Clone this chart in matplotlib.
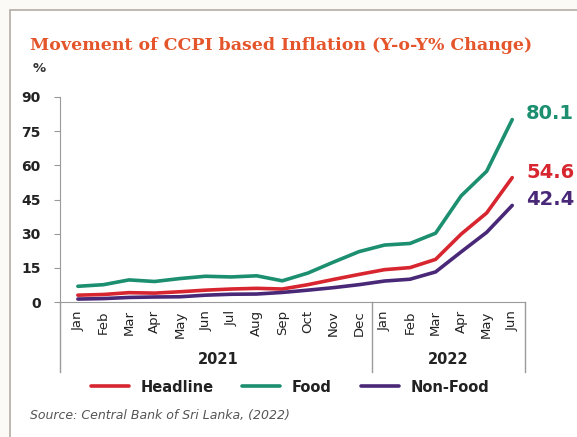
import matplotlib.pyplot as plt
from matplotlib.patches import Rectangle
import matplotlib.transforms as mtransforms

# Data (Y-o-Y % change)
months = ["Jan", "Feb", "Mar", "Apr", "May", "Jun", "Jul", "Aug", "Sep", "Oct", "Nov", "Dec",
          "Jan", "Feb", "Mar", "Apr", "May", "Jun"]
years = ["2021", "2022"]
headline = [3.0, 3.3, 4.1, 3.9, 4.5, 5.2, 5.7, 6.0, 5.7, 7.6, 9.9, 12.1,
            14.2, 15.1, 18.7, 29.8, 39.1, 54.6]
food = [6.9, 7.6, 9.7, 9.0, 10.3, 11.3, 11.0, 11.5, 9.3, 12.7, 17.5, 22.1,
        25.0, 25.7, 30.2, 46.6, 57.4, 80.1]
non_food = [1.3, 1.5, 2.0, 2.2, 2.3, 3.0, 3.4, 3.5, 4.2, 5.2, 6.3, 7.6,
            9.2, 10.0, 13.2, 22.0, 30.6, 42.4]

c_head = "#d7262f"
c_food = "#1b8f6f"
c_nonf = "#4a2878"
c_grey = "#9a9a9a"

fig = plt.figure(figsize=(5.77, 4.37), dpi=100)
fig.patch.set_facecolor("#fbfaf7")

# outer frame of the graphic
fig.patches.append(Rectangle((10 / 577, -0.05), 1.0, 1 - 10 / 437 + 0.05,
                             transform=fig.transFigure, facecolor="white",
                             edgecolor="#b5aca3", lw=1.2, zorder=-5))

fig.text(30 / 577, 1 - 45 / 437, "Movement of CCPI based Inflation (Y-o-Y% Change)",
         fontsize=12.5, fontweight="heavy", family="DejaVu Serif", color="#e4552b",
         va="center", ha="left")
fig.text(33 / 577, 1 - 69 / 437, "%", fontsize=9.5, fontweight="bold", color="#333333",
         va="center", ha="left")

ax = fig.add_axes([60 / 577, 1 - 302 / 437, 465 / 577, 205 / 437])
ax.set_zorder(3)
ax.set_facecolor("none")
x = list(range(len(months)))
ax.plot(x, headline, color=c_head, lw=2.6, label="Headline", solid_capstyle="round")
ax.plot(x, food, color=c_food, lw=2.6, label="Food", solid_capstyle="round")
ax.plot(x, non_food, color=c_nonf, lw=2.6, label="Non-Food", solid_capstyle="round")

ax.set_xlim(-0.7, 17.5)
ax.set_ylim(0, 90)
ax.set_yticks([0, 15, 30, 45, 60, 75, 90])
ax.tick_params(axis="y", length=4, color=c_grey, labelsize=10, pad=10, labelcolor="#222222")
for t in ax.get_yticklabels():
    t.set_fontweight("bold")
ax.set_xticks(x)
ax.set_xticklabels(months, rotation=90, fontsize=9.5, color="#222222")
ax.tick_params(axis="x", length=0, pad=6)

for s in ["top", "right"]:
    ax.spines[s].set_visible(False)
ax.spines["left"].set_color(c_grey)
ax.spines["bottom"].set_color(c_grey)

# year group separators below the axis
trans = mtransforms.blended_transform_factory(ax.transData, ax.transAxes)
for xs in [-0.7, 11.5, 17.5]:
    ax.plot([xs, xs], [0, -0.34], color=c_grey, lw=1, transform=trans, clip_on=False)
ax.text(5.5, -0.28, years[0], transform=trans, ha="center", va="center",
        fontsize=10.5, fontweight="bold", color="#222222")
ax.text(14.5, -0.28, years[1], transform=trans, ha="center", va="center",
        fontsize=10.5, fontweight="bold", color="#222222")

# end-point value labels
for series, col in [(food, c_food), (headline, c_head), (non_food, c_nonf)]:
    ax.annotate(f"{series[-1]:.1f}", xy=(17, series[-1]), xytext=(10, 4),
                textcoords="offset points", fontsize=14, fontweight="bold",
                color=col, va="center", ha="left", annotation_clip=False)

leg = fig.legend(loc="center", bbox_to_anchor=(290 / 577, 1 - 387 / 437), ncol=3,
                 frameon=False, fontsize=10.5, handlelength=2.6, columnspacing=2.0,
                 handletextpad=0.8)
for t in leg.get_texts():
    t.set_fontweight("bold")
    t.set_color("#222222")

fig.text(30 / 577, 1 - 416 / 437, "Source: Central Bank of Sri Lanka, (2022)",
         fontsize=9, style="italic", color="#555555", va="center", ha="left")

fig.savefig("out.png", dpi=100, facecolor=fig.get_facecolor())
